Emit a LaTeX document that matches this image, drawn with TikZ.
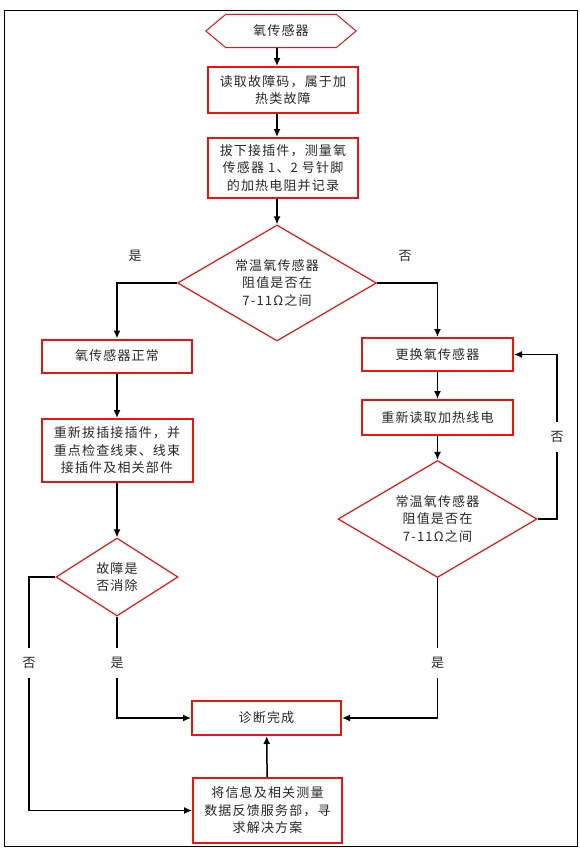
\documentclass[tikz,border=0pt]{standalone}
\usepackage{fontspec}
\setmainfont{Noto Sans CJK SC}[LetterSpace=9]
\usetikzlibrary{shapes.geometric,arrows.meta}
\definecolor{boxred}{RGB}{235,20,20}
\definecolor{txt}{RGB}{40,40,40}
\tikzset{
  every node/.style={text=txt,font=\fontsize{13}{17.5}\selectfont},
  stepbox/.style={draw=boxred,line width=2pt,rectangle,inner sep=0pt,align=center},
  decision/.style={draw=boxred,line width=1.2pt,diamond,inner sep=0pt,align=center},
  conn/.style={draw=black,line width=1.5pt,-{Latex[length=8pt,width=7pt]}},
  yn/.style={fill=white,inner xsep=2pt,inner ysep=9pt},
  ynfree/.style={inner sep=1pt}
}
\begin{document}
\begin{tikzpicture}[x=1pt,y=1pt]
\useasboundingbox (0,0) rectangle (580,-849);
\draw[black,line width=0.8pt] (4,-10) rectangle (577,-846);

\node[minimum width=150pt,minimum height=33pt,inner sep=0pt] (start) at (281,-31) {氧传感器};
\draw[boxred,line width=1pt] ([xshift=20pt]start.north west) -- ([xshift=-20pt]start.north east) -- (start.east)
  -- ([xshift=-20pt]start.south east) -- ([xshift=20pt]start.south west) -- (start.west) -- cycle;

\node[stepbox,minimum width=150pt,minimum height=46pt] (b1) at (283,-90) {读取故障码，属于加\\热类故障};
\node[stepbox,minimum width=150pt,minimum height=60pt] (b2) at (283,-168) {拔下接插件，测量氧\\传感器 1、2 号针脚\\的加热电阻并记录};
\node[decision,minimum width=199pt,minimum height=116pt,shape aspect=1.7] (d1) at (277,-283) {常温氧传感器\\阻值是否在\\7-11Ω之间};

\node[stepbox,minimum width=150pt,minimum height=33pt] (b3) at (117,-356) {氧传感器正常};
\node[stepbox,minimum width=151pt,minimum height=63pt] (b4) at (117,-450.5) {重新拔插接插件，并\\重点检查线束、线束\\接插件及相关部件};
\node[decision,minimum width=122pt,minimum height=78pt,shape aspect=1.56] (d2) at (117,-577) {故障是\\否消除};

\node[stepbox,minimum width=151pt,minimum height=33pt] (b5) at (437.5,-354.5) {更换氧传感器};
\node[stepbox,minimum width=151pt,minimum height=35pt] (b6) at (437.5,-417.5) {重新读取加热线电};
\node[decision,minimum width=199pt,minimum height=117pt,shape aspect=1.7] (d3) at (437.5,-519) {常温氧传感器\\阻值是否在\\7-11Ω之间};

\node[stepbox,minimum width=149pt,minimum height=34pt] (b7) at (266.5,-718) {诊断完成};
\node[stepbox,minimum width=149pt,minimum height=65pt] (b8) at (267.5,-810.5) {将信息及相关测量\\数据反馈服务部，寻\\求解决方案};

\coordinate (lf) at (29,-577);
\coordinate (rl) at (557,-519);

\draw[conn] (start.south -| d1.north) -- (b1.north -| d1.north);
\draw[conn] (b1.south -| d1.north) -- (b2.north -| d1.north);
\draw[conn] (b2.south -| d1.north) -- (d1.north);
\draw[conn] (d1.west) -| (b3.north);
\draw[conn] (d1.east) -| (b5.north);
\node[ynfree] (y1) at (135,-256) {是};
\node[ynfree] (n1) at (405,-256) {否};
\draw[conn] (b3) -- (b4);
\draw[conn] (b4) -- (d2);
\draw[conn] (b5) -- (b6);
\draw[conn] (b6) -- (d3);

\draw[conn] (d2.west) -- (lf) |- (b8.west);
\draw[conn] (d2.south) |- (b7.west);
\draw[conn] (d3.south) |- (b7.east);
\draw[conn] (d3.east) -- (rl) |- (b5.east);
\draw[conn] (b8) -- (b7);

\node[yn] (n2) at (29,-663) {否};
\node[yn] (y2) at (117,-663) {是};
\node[yn] (y3) at (437.5,-663) {是};
\node[yn] (n3) at (557,-437) {否};
\end{tikzpicture}
\end{document}
